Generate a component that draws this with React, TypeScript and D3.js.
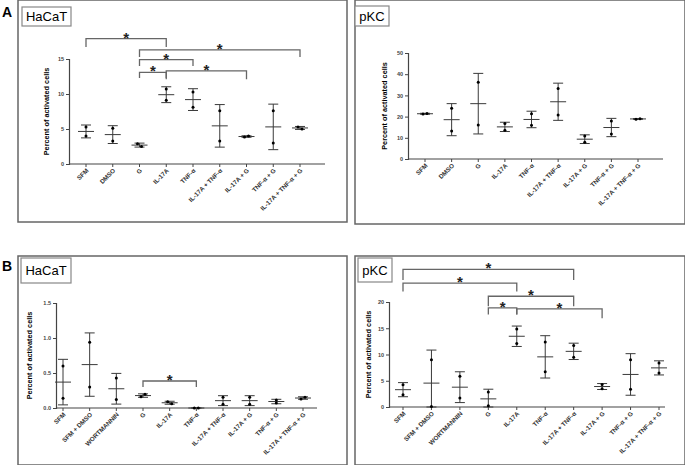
import * as d3 from "d3";
import React, { useRef, useEffect } from "react";

// categories
const catsA = ["SFM", "DMSO", "G", "IL-17A", "TNF-α", "IL-17A + TNF-α", "IL-17A + G", "TNF-α + G", "IL-17A + TNF-α + G"];
const catsB = ["SFM", "SFM + DMSO", "WORTMANNIN", "G", "IL-17A", "TNF-α", "IL-17A + TNF-α", "IL-17A + G", "TNF-α + G", "IL-17A + TNF-α + G"];

// replicate values (percent of activated cells), one pair per category
const hacatA = [[5.3, 4.0], [5.1, 3.3], [2.9, 2.5], [10.7, 9.1], [10.3, 8.1], [7.6, 3.3], [3.85, 4.0], [7.6, 3.0], [5.3, 5.0]];
const pkcA = [[21.2, 21.5], [23.9, 13.2], [36.2, 16.0], [16.7, 13.6], [21.4, 15.9], [33.2, 20.8], [10.8, 7.9], [17.9, 11.8], [18.8, 19.0]];
const hacatB = [[0.6, 0.14], [0.94, 0.3], [0.43, 0.12], [0.16, 0.195], [0.09, 0.06], [0, 0], [0.155, 0.055], [0.155, 0.055], [0.115, 0.07], [0.13, 0.155]];
const pkcB = [[4.25, 2.35], [9.0, 0.1], [5.85, 1.7], [2.85, 0.25], [14.85, 12.1], [12.4, 6.7], [11.7, 9.5], [4.3, 3.5], [9.0, 3.4], [8.4, 6.5]];

// y ticks
const ticksHacatA = [0, 5, 10, 15];
const ticksPkcA = [0, 10, 20, 30, 40, 50];
const ticksHacatB = [0, 0.5, 1.0, 1.5];
const ticksPkcB = [0, 5, 10, 15, 20];

// significance brackets: [from, to, level, left leg end, right leg end]
const sigHacatA = [[0, 3, 17.9, 16.7, 16.7], [2, 8, 16.3, 15.3, 15.3], [2, 4, 14.9, 14.0, 14.0], [2, 3, 13.1, 12.3, 12.3], [3, 6, 13.3, 12.1, 12.1]];
const sigPkcA: number[][] = [];
const sigHacatB = [[3, 5, 0.386, 0.3, 0.3]];
const sigPkcB = [[0, 6, 26.2, 24.2, 24.2], [0, 4, 23.6, 22.0, 22.0], [3, 6, 21.1, 19.2, 19.2], [3, 4, 18.9, 17.6, 17.6], [4, 7, 18.7, 17.6, 16.9]];

const FONT = "'Liberation Sans', Arial, sans-serif";

const panels = [
  { name: "HaCaT", cats: catsA, data: hacatA, ticks: ticksHacatA, fmt: "d", sig: sigHacatA,
    box: [18, 0, 347, 222], tag: [22, 7, 49, 19], ax: 69, y0: 164, yTop: 59, xEnd: 325, first: 86, last: 300, titleX: 49 },
  { name: "pKC", cats: catsA, data: pkcA, ticks: ticksPkcA, fmt: "d", sig: sigPkcA,
    box: [355, 0, 685, 224], tag: [355, 6, 34, 20], ax: 408, y0: 159, yTop: 53, xEnd: 663, first: 425, last: 638, titleX: 387 },
  { name: "HaCaT", cats: catsB, data: hacatB, ticks: ticksHacatB, fmt: ".1f", sig: sigHacatB,
    box: [18, 256, 347, 465], tag: [21, 258, 50, 25], ax: 56, y0: 408, yTop: 303, xEnd: 317, first: 63, last: 303, titleX: 32 },
  { name: "pKC", cats: catsB, data: pkcB, ticks: ticksPkcB, fmt: "d", sig: sigPkcB,
    box: [355, 256, 685, 465], tag: [358, 258, 34, 24], ax: 389, y0: 407, yTop: 302, xEnd: 665, first: 403, last: 659, titleX: 371 },
];

function App() {
  const ref = useRef<SVGSVGElement>(null);

  useEffect(() => {
    const svg = d3.select(ref.current);
    svg.selectAll("*").remove();

    svg.append("text").attr("x", 2).attr("y", 17).text("A")
      .attr("font-family", FONT).attr("font-weight", "bold").attr("font-size", 14);
    svg.append("text").attr("x", 2).attr("y", 271).text("B")
      .attr("font-family", FONT).attr("font-weight", "bold").attr("font-size", 14);

    panels.forEach((p) => {
      const g = svg.append("g");
      const [bx0, by0, bx1, by1] = p.box;
      g.append("rect").attr("x", bx0).attr("y", by0).attr("width", bx1 - bx0).attr("height", by1 - by0)
        .attr("fill", "none").attr("stroke", "#666").attr("stroke-width", 1.5);
      const [tx, ty, tw, th] = p.tag;
      g.append("rect").attr("x", tx).attr("y", ty).attr("width", tw).attr("height", th)
        .attr("fill", "white").attr("stroke", "#888").attr("stroke-width", 1.2);
      g.append("text").attr("x", tx + tw / 2).attr("y", ty + th / 2 + 4.5).text(p.name)
        .attr("text-anchor", "middle").attr("font-family", FONT).attr("font-size", 13);

      const yMax = p.ticks[p.ticks.length - 1];
      const y = d3.scaleLinear().domain([0, yMax]).range([p.y0, p.yTop]);
      const x = d3.scalePoint().domain(p.cats).range([p.first, p.last]);

      // y axis
      const yAxis = g.append("g").attr("transform", `translate(${p.ax},0)`)
        .call(d3.axisLeft(y).tickValues(p.ticks).tickFormat(d3.format(p.fmt)).tickSize(3).tickPadding(2));
      yAxis.select(".domain").attr("stroke", "#444").attr("stroke-width", 1.2);
      yAxis.selectAll(".tick line").attr("stroke", "#444");
      yAxis.selectAll("text").attr("font-size", 5.5).attr("font-family", FONT).attr("font-weight", "bold").attr("fill", "#444");

      // x axis
      g.append("line").attr("x1", p.ax).attr("x2", p.xEnd).attr("y1", p.y0).attr("y2", p.y0)
        .attr("stroke", "#444").attr("stroke-width", 1.2);
      p.cats.forEach((c) => {
        const cx = x(c)!;
        g.append("line").attr("x1", cx).attr("x2", cx).attr("y1", p.y0).attr("y2", p.y0 + 3).attr("stroke", "#444");
        g.append("text").text(c)
          .attr("transform", `translate(${cx + 3},${p.y0 + 7}) rotate(-45)`)
          .attr("text-anchor", "end").attr("font-size", 6.3).attr("font-family", FONT)
          .attr("font-weight", "bold").attr("fill", "#333");
      });

      g.append("text").text("Percent of activated cells")
        .attr("transform", `translate(${p.titleX},${(p.y0 + p.yTop) / 2}) rotate(-90)`)
        .attr("text-anchor", "middle").attr("font-size", 7.3).attr("font-family", FONT).attr("font-weight", "bold");

      // mean ± SD and points
      p.data.forEach((vals, i) => {
        const cx = x(p.cats[i])!;
        const m = d3.mean(vals)!;
        const sd = d3.deviation(vals) || 0;
        const lo = y(Math.max(0, m - sd));
        const hi = y(m + sd);
        const col = "#3a3a3a";
        g.append("line").attr("x1", cx).attr("x2", cx).attr("y1", lo).attr("y2", hi).attr("stroke", col);
        [lo, hi].forEach((yy) => {
          g.append("line").attr("x1", cx - 5).attr("x2", cx + 5).attr("y1", yy).attr("y2", yy).attr("stroke", col);
        });
        g.append("line").attr("x1", cx - 8).attr("x2", cx + 8).attr("y1", y(m)).attr("y2", y(m)).attr("stroke", col);
        const close = Math.abs(y(vals[0]) - y(vals[1])) < 3;
        vals.forEach((v, k) => {
          g.append("circle").attr("cx", close ? cx + (k === 0 ? -2 : 2) : cx).attr("cy", y(v)).attr("r", 1.5).attr("fill", "#000");
        });
      });

      // brackets
      p.sig.forEach(([a, b, lvl, l1, l2]) => {
        const xa = x(p.cats[a])!;
        const xb = x(p.cats[b])!;
        g.append("path")
          .attr("d", `M${xa},${y(l1)}V${y(lvl)}H${xb}V${y(l2)}`)
          .attr("fill", "none").attr("stroke", "#666").attr("stroke-width", 1.3);
        g.append("text").text("*").attr("x", (xa + xb) / 2).attr("y", y(lvl) + 4)
          .attr("text-anchor", "middle").attr("font-size", 15).attr("font-weight", "bold")
          .attr("font-family", FONT).attr("fill", "#222");
      });
    });
  }, []);

  return (
    <svg ref={ref} width={685} height={465} style={{ position: "absolute", left: 0, top: 0, background: "white" }} />
  );
}

export default App;
